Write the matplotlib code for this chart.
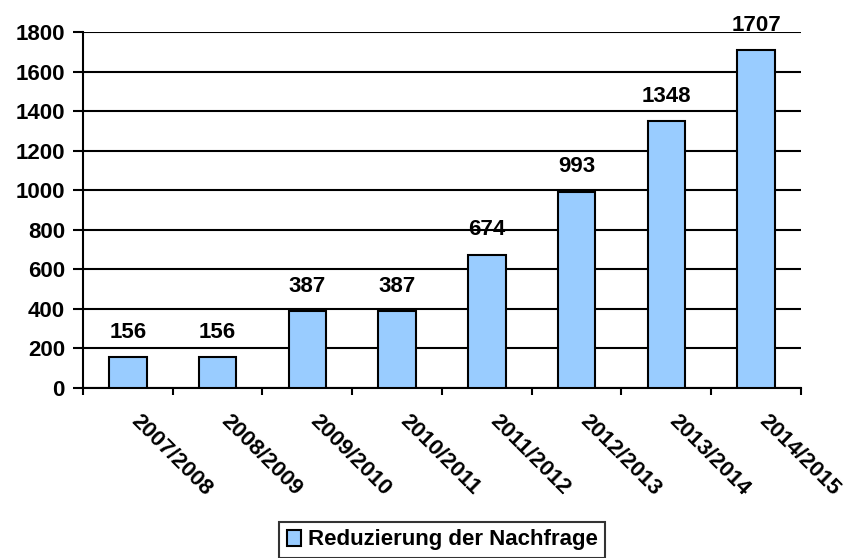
import matplotlib.pyplot as plt
import numpy as np

plt.rcParams['font.family'] = ['Liberation Sans', 'DejaVu Sans']
plt.rcParams['font.weight'] = 'bold'

seasons = ['2007/2008', '2008/2009', '2009/2010', '2010/2011',
           '2011/2012', '2012/2013', '2013/2014', '2014/2015']
reduction = [156, 156, 387, 387, 674, 993, 1348, 1707]

fig = plt.figure(figsize=(8.54, 5.58), dpi=100)
ax = fig.add_axes([83/854, 1-388/558, 718/854, 356/558])

x = np.arange(len(seasons))
bars = ax.bar(x, reduction, width=0.42, color='#99CCFF', edgecolor='black',
              linewidth=1.5, label='Reduzierung der Nachfrage', zorder=3)

# value labels above bars
for xi, v in zip(x, reduction):
    ax.annotate(str(v), (xi, v), xytext=(0, 14), textcoords='offset points',
                ha='center', va='baseline', fontsize=16, fontweight='bold')

ax.set_xlim(-0.5, len(seasons) - 0.5)
ax.set_ylim(0, 1800)
ax.set_yticks(range(0, 1801, 200))
ax.yaxis.grid(True, color='black', linewidth=1.5, zorder=0)
ax.set_axisbelow(True)

# category ticks on boundaries, labels slightly right of the centres
ax.set_xticks(np.arange(-0.5, len(seasons) + 0.5, 1))
ax.set_xticklabels([])
ax.set_xticks(x + 0.15, minor=True)
ax.set_xticklabels(seasons, minor=True, rotation=-45, ha='left', va='top',
                   rotation_mode='anchor', fontsize=16, fontweight='bold')
ax.tick_params(axis='x', which='minor', length=0, pad=16)
ax.tick_params(axis='x', which='major', length=5, width=1.5, direction='out')
ax.tick_params(axis='y', length=7, width=1.5, direction='out', pad=6,
               labelsize=16)
for lab in ax.get_yticklabels():
    lab.set_fontweight('bold')

ax.spines['top'].set_visible(False)
ax.spines['right'].set_visible(False)
ax.spines['left'].set_linewidth(1.5)
ax.spines['bottom'].set_linewidth(1.5)

leg = fig.legend(handles=[bars], loc='center', bbox_to_anchor=(442/854, 1-540/558),
                 frameon=True, fancybox=False, edgecolor='black', fontsize=16,
                 handlelength=0.65, handleheight=0.7, handletextpad=0.3,
                 borderpad=0.35, borderaxespad=0)
leg.get_frame().set_linewidth(1.5)

plt.savefig('out.png', dpi=100)
